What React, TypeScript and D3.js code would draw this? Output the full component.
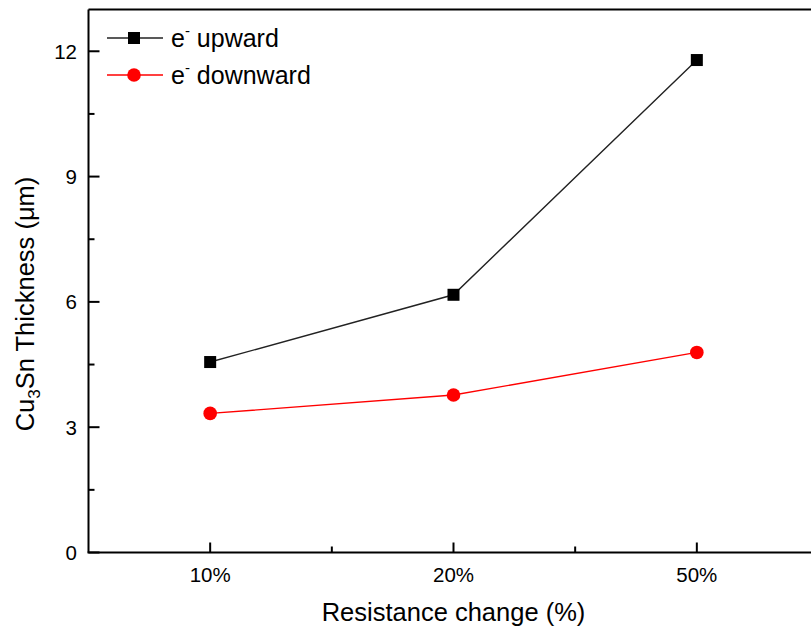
import React from "react";
import { scaleLinear, line } from "d3";

const categories = ["10%", "20%", "50%"];
const upward = [4.56, 6.17, 11.79];
const downward = [3.33, 3.77, 4.79];
const yTicks = [0, 3, 6, 9, 12];
const yMinor = [1.5, 4.5, 7.5, 10.5];
const xMinor = [1.5, 2.5];

const W = 811;
const H = 632;
const left = 88.5;
const right = 818.5;
const top = 9.5;
const bottom = 552.5;

const font = "Arial, 'Liberation Sans', sans-serif";

export default function App() {
  const x = scaleLinear().domain([0.5, 3.5]).range([left, right]);
  const y = scaleLinear().domain([0, 13]).range([bottom, top]);

  const path = line<number>()
    .x((_, i) => x(i + 1))
    .y((d) => y(d));

  return (
    <svg
      width={W}
      height={H}
      style={{ position: "absolute", left: 0, top: 0, background: "#fff" }}
      fontFamily={font}
    >
      {/* frame */}
      <g stroke="#000" strokeWidth={2} fill="none">
        <line x1={left} x2={left} y1={top} y2={bottom} />
        <line x1={left} x2={right} y1={top} y2={top} />
        <line x1={right} x2={right} y1={top} y2={bottom} />
        <line x1={left - 1} x2={right} y1={bottom} y2={bottom} />
      </g>

      {/* ticks */}
      <g stroke="#000" strokeWidth={2}>
        {yTicks.map((t) => (
          <line key={"ym" + t} x1={left} x2={left + 11} y1={y(t)} y2={y(t)} />
        ))}
        {yMinor.map((t) => (
          <line key={"yn" + t} x1={left} x2={left + 6} y1={y(t)} y2={y(t)} />
        ))}
        {categories.map((c, i) => (
          <line key={"xm" + c} x1={x(i + 1)} x2={x(i + 1)} y1={bottom} y2={bottom - 10} />
        ))}
        {xMinor.map((t) => (
          <line key={"xn" + t} x1={x(t)} x2={x(t)} y1={bottom} y2={bottom - 6} />
        ))}
      </g>

      <g fontSize={20.5} fill="#000">
        {yTicks.map((t) => (
          <text key={t} x={77} y={y(t)} dy="0.36em" textAnchor="end">
            {t}
          </text>
        ))}
        {categories.map((c, i) => (
          <text key={c} x={x(i + 1)} y={582} textAnchor="middle">
            {c}
          </text>
        ))}
      </g>

      {/* axis titles */}
      <text x={x(2)} y={621} textAnchor="middle" fontSize={25.5}>
        Resistance change (%)
      </text>
      <text
        transform="translate(34,304) rotate(-90)"
        textAnchor="middle"
        fontSize={25.5}
      >
        Cu<tspan fontSize={17} dy={6}>3</tspan>
        <tspan dy={-6}>Sn Thickness (μm)</tspan>
      </text>

      {/* series */}
      <path d={path(upward) || ""} fill="none" stroke="#222" strokeWidth={1.4} />
      <path d={path(downward) || ""} fill="none" stroke="#ff0000" strokeWidth={1.4} />
      {upward.map((v, i) => (
        <rect key={"u" + i} x={x(i + 1) - 6} y={y(v) - 6} width={12} height={12} fill="#000" />
      ))}
      {downward.map((v, i) => (
        <circle key={"d" + i} cx={x(i + 1)} cy={y(v)} r={6.8} fill="#ff0000" />
      ))}

      {/* legend */}
      <g fontSize={25}>
        <line x1={107} x2={163} y1={38} y2={38} stroke="#222" strokeWidth={1.4} />
        <rect x={128} y={32} width={12} height={12} fill="#000" />
        <text x={171} y={38} dy="0.36em">
          e<tspan fontSize={15} dy={-11}>-</tspan>
          <tspan dy={11}> upward</tspan>
        </text>
        <line x1={107} x2={163} y1={75} y2={75} stroke="#ff0000" strokeWidth={1.4} />
        <circle cx={134} cy={75} r={6.8} fill="#ff0000" />
        <text x={171} y={75} dy="0.36em">
          e<tspan fontSize={15} dy={-11}>-</tspan>
          <tspan dy={11}> downward</tspan>
        </text>
      </g>
    </svg>
  );
}
